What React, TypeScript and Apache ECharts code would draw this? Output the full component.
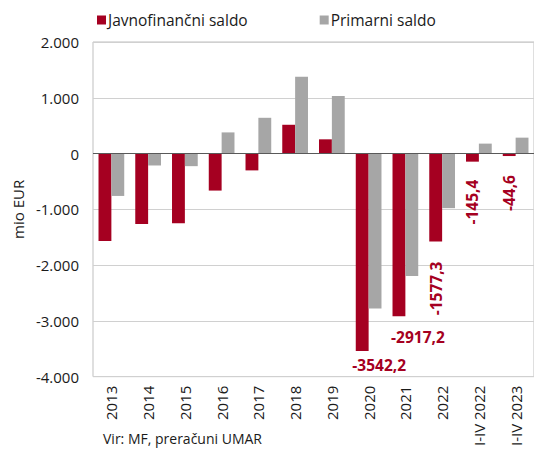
import React, { useEffect, useRef } from "react";
import * as echarts from "echarts";

const categories = ["2013", "2014", "2015", "2016", "2017", "2018", "2019", "2020", "2021", "2022", "I-IV 2022", "I-IV 2023"];
const javnofinancni = [-1570, -1263, -1251, -664, -302, 516, 255, -3542.2, -2917.2, -1577.3, -145.4, -44.6];
const primarni = [-760, -214, -226, 379, 641, 1375, 1032, -2776, -2194, -979, 178, 285];
const yTicks = { min: -4000, max: 2000, interval: 1000 };
const seriesNames = ["Javnofinančni saldo", "Primarni saldo"];

const RED = "#a50021";
const GREY = "#a6a6a6";
const FONT = "Open Sans";

// per-category label placement for labelled red bars
const labelCfg: Record<number, any> = {
  7: { rotate: 0, offset: [17, 0], distance: 6 },
  8: { rotate: 0, offset: [19, 7], distance: 6 },
  9: { rotate: 90, offset: [0, 0], distance: 20, align: "right", verticalAlign: "middle" },
  10: { rotate: 90, offset: [3, 0], distance: 21, align: "right", verticalAlign: "middle" },
  11: { rotate: 90, offset: [1, 0], distance: 20, align: "right", verticalAlign: "middle" },
};

const fmt = (v: number) => {
  const s = Math.abs(v).toString().replace(/\B(?=(\d{3})+(?!\d))/g, ".");
  return (v < 0 ? "-" : "") + s;
};

export default function App() {
  const ref = useRef<HTMLDivElement>(null);
  useEffect(() => {
    if (!ref.current) return;
    const chart = echarts.init(ref.current, null, { renderer: "svg" });
    const redData = javnofinancni.map((v, i) => {
      const c = labelCfg[i];
      if (!c) return { value: v };
      return {
        value: v,
        label: {
          show: true,
          position: "bottom",
          rotate: c.rotate,
          offset: c.offset,
          distance: c.distance,
          align: c.align,
          verticalAlign: c.verticalAlign,
          color: RED,
          fontWeight: "bold",
          fontSize: 15.5,
          fontFamily: FONT,
          formatter: (p: any) => String(p.value).replace(".", ","),
        },
      };
    });
    chart.setOption({
      animation: false,
      textStyle: { fontFamily: FONT },
      legend: {
        left: 92,
        top: 7,
        itemWidth: 9,
        itemHeight: 9,
        itemGap: 72,
        icon: "rect",
        textStyle: { fontSize: 15.5, color: "#1a1a1a", fontFamily: FONT, padding: [0, 0, 0, -3] },
        data: seriesNames,
      },
      grid: { left: 93, top: 42, height: 337, width: 444, show: true, borderColor: "#bfbfbf", borderWidth: 1 },
      xAxis: {
        type: "category",
        data: categories,
        axisLine: { show: false, onZero: false },
        axisTick: { show: false },
        axisLabel: { rotate: 90, fontSize: 15, color: "#1a1a1a", margin: 9, fontFamily: FONT },
      },
      yAxis: {
        type: "value",
        min: yTicks.min,
        max: yTicks.max,
        interval: yTicks.interval,
        name: "mio EUR",
        nameLocation: "middle",
        nameGap: 67,
        nameTextStyle: { fontSize: 15, color: "#1a1a1a", fontFamily: FONT },
        axisLine: { show: false },
        axisTick: { show: false },
        axisLabel: { fontSize: 15, color: "#1a1a1a", margin: 14, formatter: fmt, fontFamily: FONT },
        splitLine: { lineStyle: { color: "#d0d0d0", width: 1 } },
      },
      series: [
        {
          name: seriesNames[0],
          type: "bar",
          data: redData,
          itemStyle: { color: RED },
          barGap: "0%",
          barCategoryGap: "30%",
          markLine: {
            silent: true,
            symbol: "none",
            label: { show: false },
            lineStyle: { color: "#595959", width: 1, type: "solid" },
            data: [{ yAxis: 0 }],
          },
        },
        {
          name: seriesNames[1],
          type: "bar",
          data: primarni,
          itemStyle: { color: GREY },
          barGap: "0%",
          barCategoryGap: "30%",
        },
      ],
      graphic: [
        {
          type: "text",
          left: 103,
          top: 431,
          style: { text: "Vir: MF, preračuni UMAR", fontSize: 14, fill: "#1a1a1a", fontFamily: FONT },
        },
      ],
    });
    return () => chart.dispose();
  }, []);
  return <div ref={ref} style={{ width: 534, height: 449, position: "absolute", left: 0, top: 0 }} />;
}
